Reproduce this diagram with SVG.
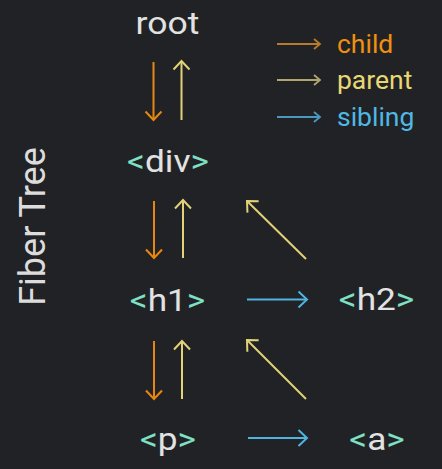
<svg xmlns="http://www.w3.org/2000/svg" width="442" height="469" viewBox="0 0 442 469">
<style>
text{font-family:Roboto,"Liberation Sans",sans-serif}
.node{font-size:32px;fill:#e2e2e2;text-anchor:middle}
.br{fill:#7fe0c3}
.leg{font-size:25px}
.title{font-size:36px;fill:#dcdcdc;text-anchor:middle}
.c{stroke:#e8870e}
.p{stroke:#e2d277}
.s{stroke:#4fb4e0}
line{stroke-width:2;fill:none}
.lc{stroke:#b97a2c}
.lp{stroke:#b1a56c}
.ls{stroke:#4a98be}
.lg{stroke-width:1.8}
</style>
<defs>
<marker id="mc" markerUnits="userSpaceOnUse" viewBox="-12 -12 24 24" markerWidth="24" markerHeight="24" refX="0" refY="0" orient="auto"><path d="M-8.5,-8 L0,0 L-8.5,8" fill="none" stroke="#e8870e" stroke-width="2"/></marker>
<marker id="mp" markerUnits="userSpaceOnUse" viewBox="-12 -12 24 24" markerWidth="24" markerHeight="24" refX="0" refY="0" orient="auto"><path d="M-8.5,-8 L0,0 L-8.5,8" fill="none" stroke="#e2d277" stroke-width="2"/></marker>
<marker id="ms" markerUnits="userSpaceOnUse" viewBox="-12 -12 24 24" markerWidth="24" markerHeight="24" refX="0" refY="0" orient="auto"><path d="M-8.5,-8 L0,0 L-8.5,8" fill="none" stroke="#4fb4e0" stroke-width="2"/></marker>
<marker id="lmc" markerUnits="userSpaceOnUse" viewBox="-10 -10 20 20" markerWidth="20" markerHeight="20" refX="0" refY="0" orient="auto"><path d="M-6,-5 L0,0 L-6,5" fill="none" stroke="#b97a2c" stroke-width="1.8"/></marker>
<marker id="lmp" markerUnits="userSpaceOnUse" viewBox="-10 -10 20 20" markerWidth="20" markerHeight="20" refX="0" refY="0" orient="auto"><path d="M-6,-5 L0,0 L-6,5" fill="none" stroke="#b1a56c" stroke-width="1.8"/></marker>
<marker id="lms" markerUnits="userSpaceOnUse" viewBox="-10 -10 20 20" markerWidth="20" markerHeight="20" refX="0" refY="0" orient="auto"><path d="M-6,-5 L0,0 L-6,5" fill="none" stroke="#4a98be" stroke-width="1.8"/></marker>
</defs>
<rect width="442" height="469" fill="#212226"/>
<text class="title" transform="translate(45,226.5) rotate(-90)">Fiber Tree</text>
<g id="legend">
<line class="lc lg" x1="277" y1="44" x2="320" y2="44" marker-end="url(#lmc)"/>
<line class="lp lg" x1="277" y1="80" x2="320" y2="80" marker-end="url(#lmp)"/>
<line class="ls lg" x1="277" y1="117" x2="320" y2="117" marker-end="url(#lms)"/>
<text class="leg" transform="translate(337,53) scale(1.06,1)" fill="#f0900f">child</text>
<text class="leg" transform="translate(337,89) scale(1.06,1)" fill="#e8d872">parent</text>
<text class="leg" transform="translate(337,126) scale(1.06,1)" fill="#4fb8e3">sibling</text>
</g>
<g id="node-root"><text class="node" transform="translate(167.5,34) scale(1.11,1)">root</text></g>
<g id="node-div"><text class="node" transform="translate(168,172) scale(1.1,1)"><tspan class="br">&lt;</tspan>div<tspan class="br">&gt;</tspan></text></g>
<g id="node-h1"><text class="node" transform="translate(167.5,311) scale(1.1,1)"><tspan class="br">&lt;</tspan>h1<tspan class="br">&gt;</tspan></text></g>
<g id="node-h2"><text class="node" transform="translate(376.5,310) scale(1.1,1)"><tspan class="br">&lt;</tspan>h2<tspan class="br">&gt;</tspan></text></g>
<g id="node-p"><text class="node" transform="translate(168,450) scale(1.1,1)"><tspan class="br">&lt;</tspan>p<tspan class="br">&gt;</tspan></text></g>
<g id="node-a"><text class="node" transform="translate(377,450) scale(1.1,1)"><tspan class="br">&lt;</tspan>a<tspan class="br">&gt;</tspan></text></g>
<g id="connectors">
<line class="c" x1="153.5" y1="62" x2="153.5" y2="120" marker-end="url(#mc)"/>
<line class="p" x1="181.5" y1="120" x2="181.5" y2="61" marker-end="url(#mp)"/>
<line class="c" x1="154" y1="201" x2="154" y2="258" marker-end="url(#mc)"/>
<line class="p" x1="183" y1="258" x2="183" y2="200" marker-end="url(#mp)"/>
<line class="c" x1="154" y1="341" x2="154" y2="399" marker-end="url(#mc)"/>
<line class="p" x1="182" y1="399" x2="182" y2="341" marker-end="url(#mp)"/>
<line class="p" x1="306" y1="259" x2="247" y2="201" marker-end="url(#mp)"/>
<line class="p" x1="306" y1="399" x2="247" y2="340" marker-end="url(#mp)"/>
<line class="s" x1="247" y1="299.5" x2="307" y2="299.5" marker-end="url(#ms)"/>
<line class="s" x1="248" y1="438" x2="307" y2="438" marker-end="url(#ms)"/>
</g>
</svg>
